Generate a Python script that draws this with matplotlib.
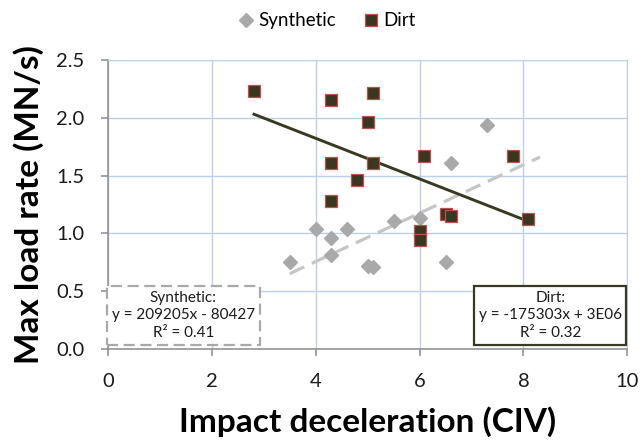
import matplotlib
matplotlib.use("Agg")
import matplotlib.pyplot as plt
import numpy as np

plt.rcParams['font.family'] = ['Lato', 'DejaVu Sans']

syn_x = [4.0, 4.6, 4.3, 4.3, 3.5, 5.0, 5.1, 5.5, 6.0, 6.6, 7.3, 6.5]
syn_y = [1.04, 1.04, 0.96, 0.81, 0.755, 0.72, 0.709, 1.107, 1.13, 1.608, 1.94, 0.755]
dirt_x = [2.81, 4.3, 5.1, 5.0, 4.3, 5.1, 4.8, 4.3, 6.09, 7.8, 6.5, 6.6, 8.09, 6.0, 6.0]
dirt_y = [2.233, 2.15, 2.21, 1.96, 1.605, 1.605, 1.458, 1.277, 1.671, 1.671, 1.17, 1.147, 1.127, 1.023, 0.945]

syn_fit = (0.209205, -0.080427)
dirt_fit = (-0.175303, 2.523)
syn_line_x = [3.5, 8.32]
dirt_line_x = [2.81, 8.09]

x_ticks = [0, 2, 4, 6, 8, 10]
y_ticks = [0.0, 0.5, 1.0, 1.5, 2.0, 2.5]

fig = plt.figure(figsize=(6.4, 4.42), dpi=100)
ax = fig.add_axes([0.169, 0.2104, 0.811, 0.654])

grid_c = '#bcd0e8'
ax.set_xlim(0, 10)
ax.set_ylim(0, 2.5)
ax.set_xticks(x_ticks)
ax.set_yticks(y_ticks)
ax.set_yticklabels([f"{v:.1f}" for v in y_ticks])
ax.grid(True, color=grid_c, linewidth=1)
ax.set_axisbelow(True)
for s in ['top', 'right']:
    ax.spines[s].set_color(grid_c)
for s in ['left', 'bottom']:
    ax.spines[s].set_color('#8c8c8c')
    ax.spines[s].set_linewidth(1.1)
ax.tick_params(axis='both', direction='out', length=5, width=1.1, color='#8c8c8c',
               labelsize=14.5, labelcolor='#1a1a1a')
ax.tick_params(axis='x', pad=12)
ax.tick_params(axis='y', pad=12)

sx = np.array(syn_line_x)
ax.plot(sx, syn_fit[0] * sx + syn_fit[1], color='#c6c6c6', lw=2.3, dashes=(5, 2.6), zorder=2)
dx = np.array(dirt_line_x)
ax.plot(dx, dirt_fit[0] * dx + dirt_fit[1], color='#393922', lw=2.1, zorder=2)

ax.plot(syn_x, syn_y, linestyle='none', marker='D', markersize=7, color='#a9a9a9',
        markeredgecolor='#a9a9a9', zorder=3, label='Synthetic')
ax.plot(dirt_x, dirt_y, linestyle='none', marker='s', markersize=8.8, markerfacecolor='#3b3620',
        markeredgecolor='#c0504d', markeredgewidth=0.9, zorder=4, label='Dirt')

ax.set_xlabel('Impact deceleration (CIV)', fontsize=24, fontweight='bold', labelpad=12)
ax.set_ylabel('Max load rate (MN/s)', fontsize=24, fontweight='bold', labelpad=9)

ax.text(1.45, 0.29, 'Synthetic:\ny = 209205x - 80427\nR² = 0.41', ha='center', va='center', fontsize=11,
        linespacing=1.35, color='#1a1a1a',
        bbox=dict(boxstyle='square,pad=0.3', facecolor='white', edgecolor='#a9a9a9',
                  linestyle=(0, (5, 2.5)), linewidth=1.6))
ax.text(8.52, 0.29, 'Dirt:\ny = -175303x + 3E06\nR² = 0.32', ha='center', va='center', fontsize=11,
        linespacing=1.35, color='#1a1a1a',
        bbox=dict(boxstyle='square,pad=0.3', facecolor='white', edgecolor='#393922', linewidth=1.6))

fig.legend(loc='center', bbox_to_anchor=(0.51, 0.953), ncol=2, frameon=False, fontsize=13.5,
           handletextpad=0.2, columnspacing=1.4, handlelength=0.9)

fig.savefig('out.png', dpi=100)
